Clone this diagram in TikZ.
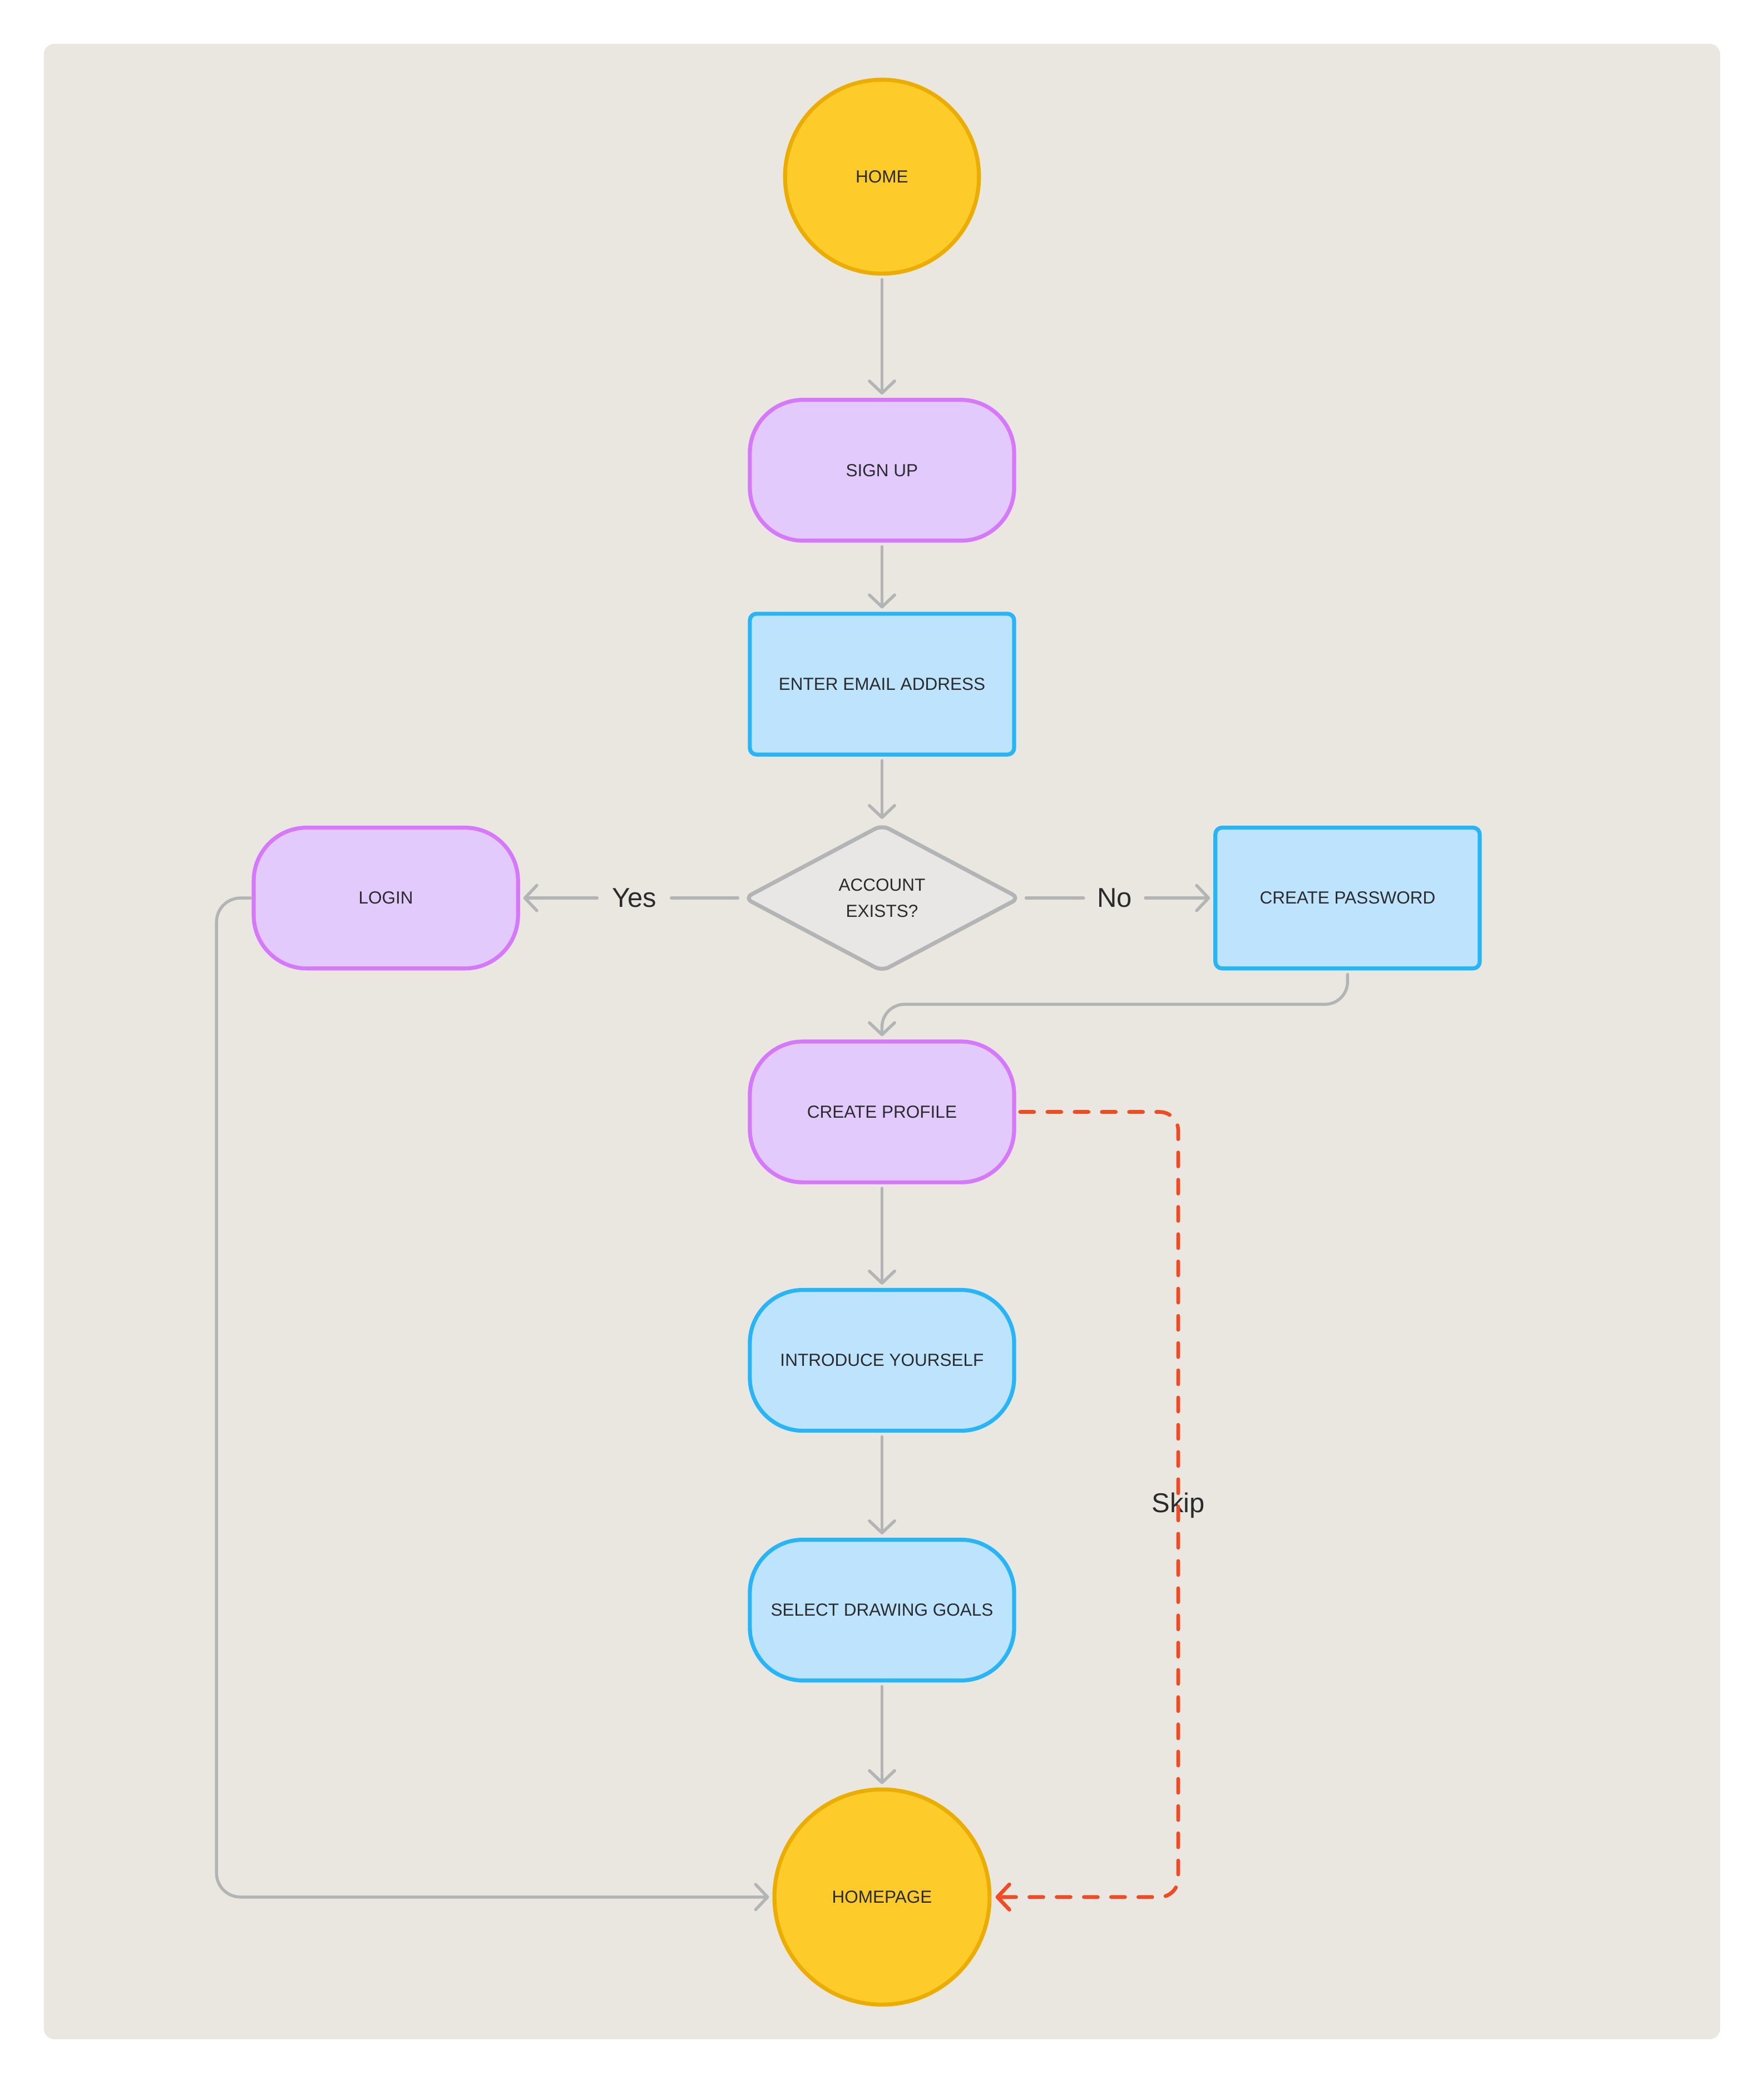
\documentclass[tikz,border=0pt]{standalone}
\usepackage{fontspec}
\setmainfont{Liberation Sans}
\usetikzlibrary{arrows.meta,shapes.geometric}
\definecolor{panel}{HTML}{EAE7E0}
\definecolor{txt}{HTML}{2A2B2D}
\definecolor{yfill}{HTML}{FDCC2B}
\definecolor{ydraw}{HTML}{EBAE00}
\definecolor{pfill}{HTML}{E3CAFC}
\definecolor{pdraw}{HTML}{D578FC}
\definecolor{bfill}{HTML}{BEE3FC}
\definecolor{bdraw}{HTML}{27B5FA}
\definecolor{dfill}{HTML}{E8E7E5}
\definecolor{lgray}{HTML}{B3B4B5}
\definecolor{skipred}{HTML}{F24A22}
\begin{document}
\begin{tikzpicture}[x=1pt,y=-1pt,
  base/.style={line width=3pt, text=txt, font=\fontsize{13.2}{20}\selectfont, inner sep=0pt, align=center},
  startend/.style={base, circle, fill=yfill, draw=ydraw},
  pill/.style={base, rectangle, rounded corners=40pt, minimum width=199pt, minimum height=106pt},
  purple/.style={pill, fill=pfill, draw=pdraw},
  bluepill/.style={pill, fill=bfill, draw=bdraw},
  bluebox/.style={base, rectangle, rounded corners=5pt, minimum width=199pt, minimum height=106pt, fill=bfill, draw=bdraw},
  decision/.style={base, diamond, aspect=1.87, minimum width=208pt, minimum height=111pt, rounded corners=6pt, fill=dfill, draw=lgray},
  lbl/.style={text=txt, font=\fontsize{20.5}{24}\selectfont, inner ysep=0pt},
  conn/.style={draw=lgray, line width=2.3pt, line cap=round, line join=round, shorten <=3pt, shorten >=2.5pt},
  arr/.style={conn, -{Straight Barb[length=9pt,width=19pt,round]}},
  skiparr/.style={draw=skipred, line width=2.8pt, line cap=round, dash pattern=on 10.5pt off 10pt, shorten <=3pt, shorten >=3pt, rounded corners=14pt, -{Straight Barb[length=9pt,width=19pt,round]}}
]
\useasboundingbox (0,0) rectangle (1328,1568);
\fill[white] (0,0) rectangle (1328,1568);
\fill[panel, rounded corners=8pt] (33,33) rectangle (1295,1535);

\node[startend, minimum size=146pt] (home) at (664,133) {HOME};
\node[purple] (signup) at (664,354) {SIGN UP};
\node[bluebox] (email) at (664,515) {ENTER EMAIL ADDRESS};
\node[decision] (exists) at (664,676) {ACCOUNT\\EXISTS?};
\node[purple] (login) at (290.5,676) {LOGIN};
\node[bluebox] (pass) at (1014.5,676) {CREATE PASSWORD};
\node[purple] (profile) at (664,837) {CREATE PROFILE};
\node[bluepill] (intro) at (664,1024) {INTRODUCE YOURSELF};
\node[bluepill] (goals) at (664,1212) {SELECT DRAWING GOALS};
\node[startend, minimum size=162pt] (homepage) at (664,1428) {HOMEPAGE};

\node[lbl, inner xsep=11pt] (yes) at (477.5,676) {Yes};
\node[lbl, inner xsep=10pt] (no) at (839,676) {No};
\node[lbl, inner xsep=4pt, inner ysep=12pt] (skip) at (887,1133) {Skip};

\coordinate (pturn) at (1014.5,756);
\coordinate (lturn) at (163,676);
\coordinate (skipturn) at (887,837);

\draw[arr] (home) -- (signup);
\draw[arr] (signup) -- (email);
\draw[arr] (email) -- (exists);
\draw[conn, shorten >=0pt] (exists.west) -- (yes.east);
\draw[arr, shorten <=0pt] (yes.west) -- (login.east);
\draw[conn, shorten >=0pt] (exists.east) -- (no.west);
\draw[arr, shorten <=0pt] (no.east) -- (pass.west);
\draw[arr, rounded corners=17pt] (pass.south) -- (pturn) -| (profile.north);
\draw[arr] (profile) -- (intro);
\draw[arr] (intro) -- (goals);
\draw[arr] (goals) -- (homepage);
\draw[arr, rounded corners=18pt, shorten <=1pt] (login.west) -- (lturn) |- (homepage.west);
\draw[skiparr] (profile.east) -- (skipturn) |- (homepage.east);
\end{tikzpicture}
\end{document}
